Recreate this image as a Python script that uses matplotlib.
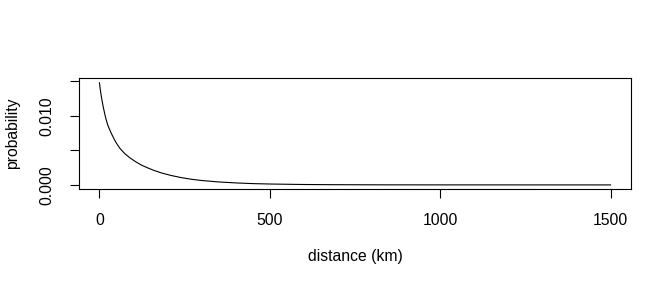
import numpy as np
import matplotlib
matplotlib.use("Agg")
from matplotlib import pyplot as plt

# values
distance = [0, 2, 4, 8, 12, 16, 20, 25, 30, 36, 43, 50, 60, 75, 90, 105, 122, 140, 160,
            181, 210, 240, 270, 300, 350, 400, 450, 500, 600, 700, 850, 1000, 1500]
probability = [0.0148, 0.0140, 0.0133, 0.0121, 0.0111, 0.0102, 0.0094, 0.0086, 0.0080, 0.00735,
               0.00665, 0.00603, 0.00530, 0.0045, 0.0039, 0.0034, 0.0029, 0.00250, 0.00210,
               0.00175, 0.00137, 0.00106, 0.00082, 0.00064, 0.00043, 0.00029, 0.00019,
               0.00013, 0.00006, 0.00003, 0.00001, 0.000005, 0.0]
x_ticks = [0, 500, 1000, 1500]
y_ticks = [0.0, 0.005, 0.010, 0.015]
y_tick_labels = ["0.000", "", "0.010", ""]

plt.rcParams['font.family'] = ['Liberation Sans', 'DejaVu Sans']

fig = plt.figure(figsize=(6.72, 2.88), dpi=100)
ax = fig.add_axes([79/672, 1-189/288, (631-79)/672, (189-78)/288])
ax.plot(distance, probability, color="black", lw=0.8)

# R style 4% padding
xr = max(distance) - min(distance)
yr = max(probability) - min(probability)
ax.set_xlim(min(distance) - 0.04*xr, max(distance) + 0.04*xr)
ax.set_ylim(min(probability) - 0.04*yr, max(probability) + 0.04*yr + 0.0001)

ax.set_xticks(x_ticks)
ax.set_xticklabels([str(t) for t in x_ticks])
ax.set_yticks(y_ticks)
ax.set_yticklabels(y_tick_labels, rotation=90, va="center")
ax.tick_params(direction="out", length=6.5, width=0.8, labelsize=11.3, pad=11, colors="black")
for s in ax.spines.values():
    s.set_linewidth(0.8)

ax.set_xlabel("distance (km)", fontsize=11.3)
ax.set_ylabel("probability", fontsize=11.3)
ax.xaxis.set_label_coords(0.5, (189-257)/111)
ax.yaxis.set_label_coords((13-79)/552, 0.5)
ax.xaxis.label.set_va("center")
ax.yaxis.label.set_va("center")

fig.savefig("out.png", dpi=100)
